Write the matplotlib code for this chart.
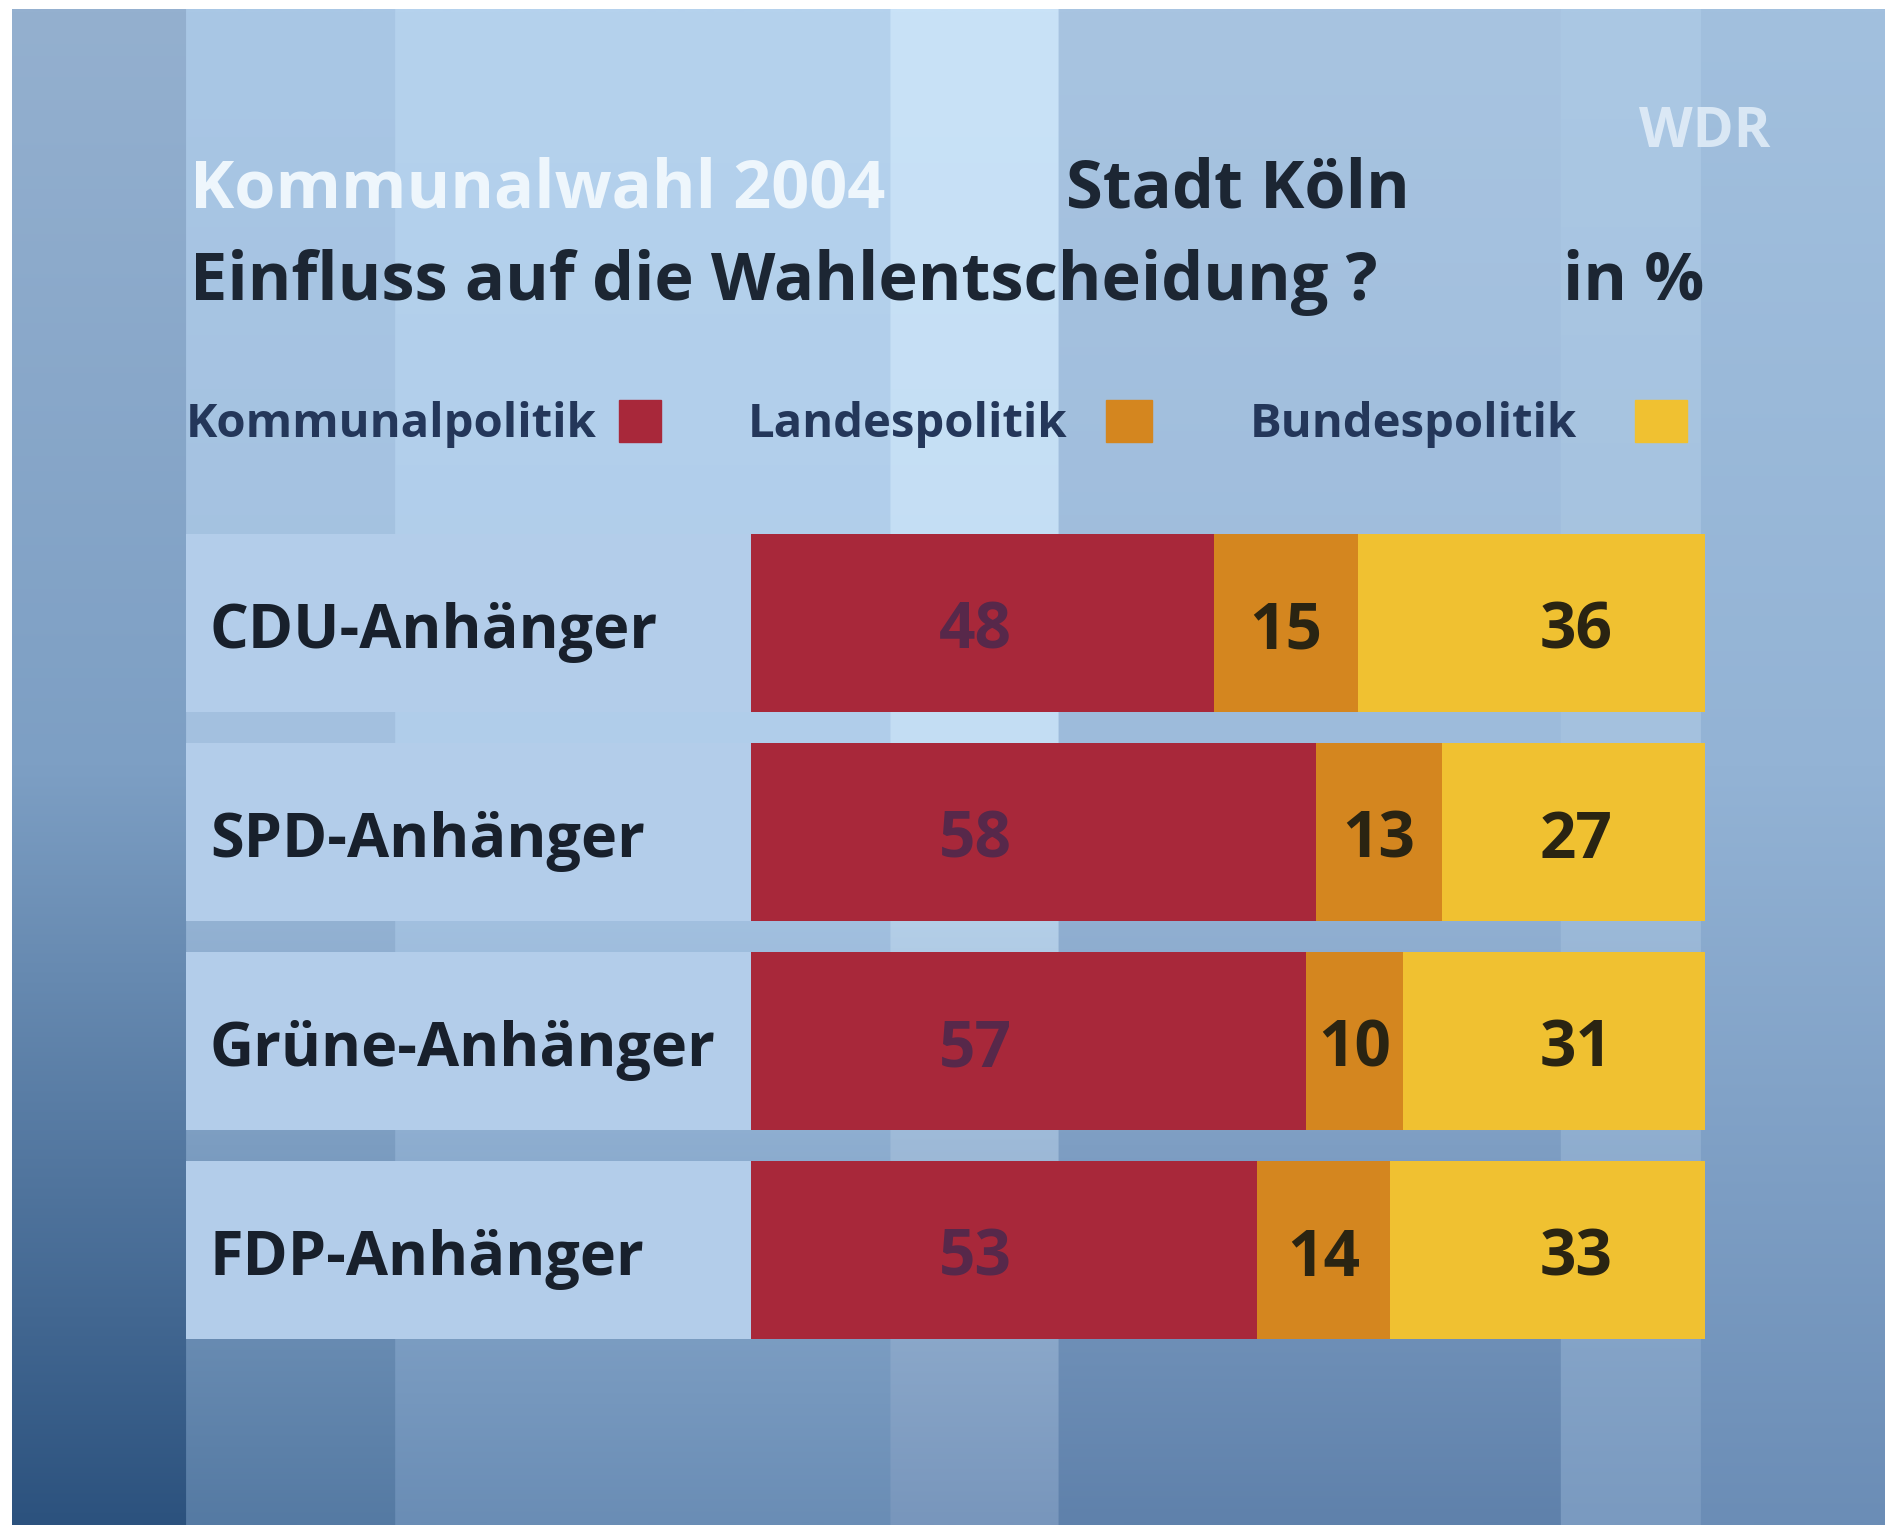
import numpy as np
import matplotlib

matplotlib.use("Agg")
import matplotlib.pyplot as plt
from matplotlib.patches import Rectangle

# ---- data -------------------------------------------------------------------
groups = ["CDU-Anhänger", "SPD-Anhänger", "Grüne-Anhänger", "FDP-Anhänger"]
series = ["Kommunalpolitik", "Landespolitik", "Bundespolitik"]
kommunal = [48, 58, 57, 53]
landes = [15, 13, 10, 14]
bundes = [36, 27, 31, 33]

colors = ["#a8283a", "#d4861f", "#f0c131"]
FONT = "Open Sans"

W, H = 1885, 1525
fig = plt.figure(figsize=(W / 100, H / 100), dpi=100)
fig.patch.set_facecolor("white")


def fx(x):
    return x / W


def fy(y):
    return 1 - y / H


# ---- TV-style striped background ----------------------------------------------
edges = [12, 186, 395, 890, 1058, 1560, 1700, W]
top = ["#94b0cf", "#a9c7e5", "#b5d2ed", "#c9e2f7", "#a8c4e1", "#abc8e4", "#a2c0de"]
mid = ["#7d9fc4", "#a3c0df", "#b0cdea", "#c3ddf3", "#9dbbdb", "#a4c1de", "#93b3d5"]
bot = ["#2c527e", "#557aa3", "#6a8db5", "#7896bc", "#5f81ab", "#7a9ac0", "#6b8db6"]


def _rgb(h):
    return np.array(matplotlib.colors.to_rgb(h))


col_idx = np.searchsorted(edges[1:], np.arange(edges[0], edges[-1]), side="right")
rows = 300
t = np.linspace(0, 1, rows)[:, None, None]
tc = np.array([_rgb(c) for c in top])[col_idx][None]
mc = np.array([_rgb(c) for c in mid])[col_idx][None]
bc = np.array([_rgb(c) for c in bot])[col_idx][None]
k = 0.5
img = np.where(t < k, tc + (mc - tc) * (t / k), mc + (bc - mc) * ((t - k) / (1 - k)))

bg = fig.add_axes([fx(12), 0, 1 - fx(12), 1 - 9 / H])
bg.imshow(img, aspect="auto", interpolation="bilinear", extent=[0, 1, 0, 1])
bg.set_axis_off()

# ---- titles -------------------------------------------------------------------
title_kw = dict(fontsize=48, fontweight="bold", family=FONT, ha="left", va="baseline")
fig.text(fx(190), fy(207), "Kommunalwahl 2004", color="#eef6fc", **title_kw)
fig.text(fx(1066), fy(207), "Stadt Köln", color="#1c2633", **title_kw)
fig.text(fx(190), fy(300), "Einfluss auf die Wahlentscheidung ?", color="#1c2633",
         **title_kw)
fig.text(fx(1563), fy(300), "in %", color="#1c2633", **title_kw)
fig.text(fx(1705), fy(147), "WDR", color="#e4eff9", alpha=0.85, fontsize=40,
         fontweight="bold", family=FONT, ha="center", va="baseline")

# ---- legend (text first, square after) ----------------------------------------
leg_text_x = [186, 748, 1250]
leg_box_x = [619, 1106, 1635]
leg_box_w = [42, 46, 52]
for name, c, tx, bx, bw in zip(series, colors, leg_text_x, leg_box_x, leg_box_w):
    fig.text(fx(tx), fy(437), name, color="#24375a", fontsize=34,
             family=FONT, fontweight="bold", ha="left", va="baseline")
    fig.patches.append(Rectangle((fx(bx), fy(442)), fx(bw), 42 / H,
                                 transform=fig.transFigure, color=c, zorder=3))

# ---- stacked bars (shown as shares of each row's total) -------------------------
x0_px, unit_px = 751, 9.54
left_px, right_px = 186, 1710
xmin = -(x0_px - left_px) / unit_px
xmax = (right_px - x0_px) / unit_px
ax = fig.add_axes([fx(left_px), fy(1354.5), fx(right_px - left_px), 836 / H])
ax.set_xlim(xmin, xmax)
ax.set_ylim(len(groups) - 0.5, -0.5)
ax.set_axis_off()

y = np.arange(len(groups))
bar_h = 0.85
ax.barh(y, -xmin, left=xmin, height=bar_h, color="#b3cdea", zorder=1)

k_arr, l_arr, b_arr = np.array(kommunal), np.array(landes), np.array(bundes)
total = k_arr + l_arr + b_arr
k_s, l_s, b_s = k_arr / total * 100, l_arr / total * 100, b_arr / total * 100
ax.barh(y, k_s, height=bar_h, color=colors[0], zorder=2)
ax.barh(y, l_s, left=k_s, height=bar_h, color=colors[1], zorder=2)
ax.barh(y, b_s, left=k_s + l_s, height=bar_h, color=colors[2], zorder=2)

num_kw = dict(fontsize=46, fontweight="bold", family=FONT, ha="center",
              va="center", zorder=4)
dy = 0.045
for i, g in enumerate(groups):
    ax.text(xmin + 2.5, i + dy, g, fontsize=44, fontweight="bold", family=FONT,
            color="#18202c", ha="left", va="center", zorder=4)
    ax.text(23.5, i + dy, str(kommunal[i]), color="#57284a", **num_kw)
    ax.text(k_s[i] + l_s[i] / 2, i + dy, str(landes[i]), color="#2a2412", **num_kw)
    ax.text(86.5, i + dy, str(bundes[i]), color="#2a2412", **num_kw)

fig.savefig("out.png", dpi=100, facecolor=fig.get_facecolor())
